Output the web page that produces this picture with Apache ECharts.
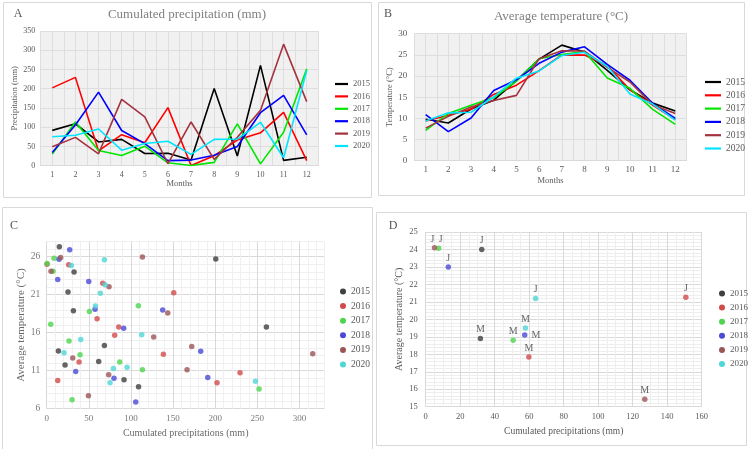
<!DOCTYPE html>
<html><head><meta charset="utf-8">
<script src="https://cdn.jsdelivr.net/npm/echarts@6/dist/echarts.min.js"></script>
<style>html,body{margin:0;padding:0;background:#fff}#c{width:751px;height:449px}</style>
</head><body><div id="c"></div>
<script>
const years = ['2015','2016','2017','2018','2019','2020'];
const months = [1,2,3,4,5,6,7,8,9,10,11,12];

// Cumulated precipitation (mm) per month
const precip2015 = [91.8, 109, 61.7, 68.5, 31.7, 32.5, 15, 200.7, 25.3, 260.8, 13.9, 21.8];
const precip2016 = [202.2, 229.5, 38.4, 80.7, 59.8, 150.8, 0.4, 26.1, 66.5, 85.5, 138.5, 13.1];
const precip2017 = [30.1, 113.6, 39.6, 26.5, 50.7, 7.5, 0.5, 8.7, 108.8, 4.75, 86.7, 252.1];
const precip2018 = [34.4, 105.7, 191.2, 91.4, 57.4, 13.1, 14.6, 27.3, 49.9, 137.7, 182.8, 79.9];
const precip2019 = [49.5, 73.6, 30.9, 172.2, 127, 5.1, 113.6, 16.6, 74, 143.7, 315.8, 166.6];
const precip2020 = [75.2, 79.2, 95.4, 40.4, 57.8, 63.7, 29.3, 68.5, 69.3, 112.8, 20.6, 247.8];

// Average temperature (°C) per month
const temp2015 = [9.8, 8.9, 12.2, 14.3, 18.9, 24.0, 27.3, 25.7, 21.35, 16.75, 13.6, 11.75];
const temp2016 = [9.4, 10.74, 12.14, 15.65, 17.84, 21.26, 25.0, 24.95, 22.5, 16.75, 13.15, 9.7];
const temp2017 = [7.18, 11.13, 13.1, 14.9, 18.8, 24.07, 25.1, 25.8, 19.55, 17.1, 12.14, 8.59];
const temp2018 = [10.9, 6.88, 10.1, 16.6, 19.1, 23.0, 25.65, 26.9, 22.75, 19.0, 13.55, 10.0];
const temp2019 = [7.7, 10.47, 12.67, 14.2, 15.43, 24.1, 25.95, 25.9, 22.05, 18.6, 13.24, 11.13];
const temp2020 = [9.4, 11.3, 11.44, 15.1, 19.5, 21.2, 24.85, 25.6, 22.3, 15.74, 13.37, 9.6];

const precipTicksA = [0, 50, 100, 150, 200, 250, 300, 350];
const tempTicksB = [0, 5, 10, 15, 20, 25, 30];

const precips = [precip2015, precip2016, precip2017, precip2018, precip2019, precip2020];
const temps = [temp2015, temp2016, temp2017, temp2018, temp2019, temp2020];

const lineColors = ['#000000', '#ff0000', '#00e600', '#0000ff', '#a3333d', '#00e5ff'];
const dotColors = ['#3f3f3f', '#d24b4b', '#4fd44f', '#4a4ad6', '#9b5555', '#4fd6d6'];

const FF = 'Liberation Serif';
const chart = echarts.init(document.getElementById('c'), null, {renderer: 'canvas'});

function txt(x, y, text, size, color, align) {
  return {type: 'text', x: x, y: y, silent: true, style: {text: text, font: size + 'px "' + FF + '"', fill: color,
    align: align || 'center', verticalAlign: 'middle', textAlign: align || 'center', textVerticalAlign: 'middle'}};
}
function box(x, y, w, h) {
  return {type: 'rect', shape: {x: x + 0.5, y: y + 0.5, width: w, height: h}, silent: true, z: -10,
    style: {fill: 'none', stroke: '#d9d9d9', lineWidth: 1}};
}
const isInt = v => Math.abs(v - Math.round(v)) < 1e-6;

const series = [];
years.forEach((y, i) => {
  series.push({name: y, type: 'line', xAxisIndex: 0, yAxisIndex: 0, symbol: 'none',
    lineStyle: {width: 1.6, color: lineColors[i]}, itemStyle: {color: lineColors[i]},
    data: months.map((m, k) => [m, precips[i][k]])});
});
years.forEach((y, i) => {
  series.push({name: y, type: 'line', xAxisIndex: 1, yAxisIndex: 1, symbol: 'none',
    lineStyle: {width: 1.6, color: lineColors[i]}, itemStyle: {color: lineColors[i]},
    data: months.map((m, k) => [m, temps[i][k]])});
});
years.forEach((y, i) => {
  series.push({name: y, type: 'scatter', xAxisIndex: 2, yAxisIndex: 2, symbolSize: 5.5,
    itemStyle: {color: dotColors[i]},
    data: months.map((m, k) => [precips[i][k], temps[i][k]])});
});
const jOffsets = [[0,0],[0,0],[2,0],[0,0],[-2,0],[0,0]];
years.forEach((y, i) => {
  series.push({name: y, type: 'scatter', xAxisIndex: 3, yAxisIndex: 3, symbolSize: 5.5,
    itemStyle: {color: dotColors[i]},
    label: {show: true, fontFamily: FF, fontSize: 10, color: '#404040', distance: 1},
    data: [
      {value: [precips[i][5], temps[i][5]], label: {formatter: 'J', position: 'top', offset: jOffsets[i]}},
      {value: [precips[i][4], temps[i][4]], label: {formatter: 'M', position: i === 3 ? 'right' : 'top', distance: i === 3 ? 4 : 1}}
    ]});
});

function legendData(colors, icon) {
  return years.map((y, i) => ({name: y, icon: icon, itemStyle: {color: colors[i]}}));
}

const option = {
  animation: false,
  backgroundColor: '#ffffff',
  textStyle: {fontFamily: FF},
  grid: [
    {left: 40.7, top: 31, width: 277.6, height: 134.7, show: true, backgroundColor: '#f1f1f1', borderWidth: 0},
    {left: 414.3, top: 33.7, width: 272.4, height: 127, show: true, backgroundColor: '#f1f1f1', borderWidth: 0},
    {left: 46.7, top: 241.5, width: 278, height: 167.2},
    {left: 425.7, top: 232, width: 276, height: 174.7}
  ],
  xAxis: [
    {type: 'value', gridIndex: 0, min: 0.5, max: 12.5, interval: 0.5,
      axisLabel: {formatter: v => isInt(v) ? String(Math.round(v)) : '', fontSize: 8, color: '#595959', margin: 5, fontFamily: FF},
      axisTick: {show: false}, axisLine: {show: true, lineStyle: {color: '#d9d9d9'}},
      splitLine: {show: true, lineStyle: {color: '#dedede', width: 1}},
      name: 'Months', nameLocation: 'middle', nameGap: 14, nameTextStyle: {fontSize: 8.5, color: '#595959', fontFamily: FF}},
    {type: 'value', gridIndex: 1, min: 0.5, max: 12.5, interval: 0.5,
      axisLabel: {formatter: v => isInt(v) ? String(Math.round(v)) : '', fontSize: 9, color: '#595959', margin: 4, fontFamily: FF},
      axisTick: {show: false}, axisLine: {show: true, lineStyle: {color: '#d9d9d9'}},
      splitLine: {show: true, lineStyle: {color: '#dedede', width: 1}},
      name: 'Months', nameLocation: 'middle', nameGap: 16, nameTextStyle: {fontSize: 8.5, color: '#595959', fontFamily: FF}},
    {type: 'value', gridIndex: 2, min: 0, max: 330, interval: 10,
      axisLabel: {formatter: v => (Math.round(v) % 50 === 0) ? String(Math.round(v)) : '', fontSize: 9, color: '#7a7a7a', margin: 5, fontFamily: FF},
      axisTick: {show: false}, axisLine: {show: false},
      splitLine: {show: true, lineStyle: {color: ['#d9d9d9', '#f0f0f0', '#f0f0f0', '#f0f0f0', '#f0f0f0'], width: 1}},
      name: 'Cumulated precipitations (mm)', nameLocation: 'middle', nameGap: 20, nameTextStyle: {fontSize: 10, color: '#6a6a6a', fontFamily: FF}},
    {type: 'value', gridIndex: 3, min: 0, max: 160, interval: 5,
      axisLabel: {formatter: v => (Math.round(v) % 20 === 0) ? String(Math.round(v)) : '', fontSize: 8.5, color: '#595959', margin: 6, fontFamily: FF},
      axisTick: {show: false}, axisLine: {show: false},
      splitLine: {show: true, lineStyle: {color: ['#d9d9d9', '#eeeeee', '#eeeeee', '#eeeeee'], width: 1}},
      name: 'Cumulated precipitations (mm)', nameLocation: 'middle', nameGap: 20, nameTextStyle: {fontSize: 9.5, color: '#595959', fontFamily: FF}}
  ],
  yAxis: [
    {type: 'value', gridIndex: 0, min: precipTicksA[0], max: precipTicksA[precipTicksA.length - 1], interval: 50,
      axisLabel: {fontSize: 8, color: '#595959', margin: 5.5, fontFamily: FF},
      axisTick: {show: false}, axisLine: {show: false},
      splitLine: {show: true, lineStyle: {color: '#dedede'}},
      name: 'Precipitation (mm)', nameLocation: 'middle', nameGap: 19, nameTextStyle: {fontSize: 8.5, color: '#595959', fontFamily: FF}},
    {type: 'value', gridIndex: 1, min: tempTicksB[0], max: tempTicksB[tempTicksB.length - 1], interval: 5,
      axisLabel: {fontSize: 9, color: '#595959', margin: 7, fontFamily: FF},
      axisTick: {show: false}, axisLine: {show: false},
      splitLine: {show: true, lineStyle: {color: '#dedede'}},
      name: 'Temperature (°C)', nameLocation: 'middle', nameGap: 18, nameTextStyle: {fontSize: 8.5, color: '#595959', fontFamily: FF}},
    {type: 'value', gridIndex: 2, min: 6, max: 28, interval: 1,
      axisLabel: {formatter: v => ((Math.round(v) - 6) % 5 === 0) ? String(Math.round(v)) : '', fontSize: 9.5, color: '#7a7a7a', margin: 6.5, fontFamily: FF},
      axisTick: {show: false}, axisLine: {show: false},
      splitLine: {show: true, lineStyle: {color: ['#d9d9d9', '#f0f0f0', '#f0f0f0', '#f0f0f0', '#f0f0f0'], width: 1}},
      name: 'Average temperature (°C)', nameLocation: 'middle', nameGap: 20, nameTextStyle: {fontSize: 11, color: '#6a6a6a', fontFamily: FF}},
    {type: 'value', gridIndex: 3, min: 15, max: 25, interval: 0.2,
      axisLabel: {formatter: v => isInt(v) ? String(Math.round(v)) : '', fontSize: 8.5, color: '#595959', margin: 8, fontFamily: FF},
      axisTick: {show: false}, axisLine: {show: false},
      splitLine: {show: true, lineStyle: {color: ['#d9d9d9', '#eeeeee', '#eeeeee', '#eeeeee', '#eeeeee'], width: 1}},
      name: 'Average temperature (°C)', nameLocation: 'middle', nameGap: 21, nameTextStyle: {fontSize: 10, color: '#595959', fontFamily: FF}}
  ],
  legend: [
    {data: legendData(lineColors, 'rect'), left: 330, top: 73, orient: 'vertical', itemWidth: 13, itemHeight: 2.2,
      itemGap: 0.4, selectedMode: false, textStyle: {fontFamily: FF, fontSize: 8.5, color: '#595959', lineHeight: 12}},
    {data: legendData(lineColors, 'rect'), left: 700, top: 70.5, orient: 'vertical', itemWidth: 16, itemHeight: 2.2,
      itemGap: 0.3, selectedMode: false, textStyle: {fontFamily: FF, fontSize: 9.5, color: '#595959', lineHeight: 13}},
    {data: legendData(dotColors, 'circle'), left: 335, top: 280.5, orient: 'vertical', itemWidth: 6, itemHeight: 6,
      itemGap: 2.6, selectedMode: false, textStyle: {fontFamily: FF, fontSize: 9.5, color: '#595959', lineHeight: 12}},
    {data: legendData(dotColors, 'circle'), left: 714, top: 282.5, orient: 'vertical', itemWidth: 6, itemHeight: 6,
      itemGap: 2.1, selectedMode: false, textStyle: {fontFamily: FF, fontSize: 9, color: '#595959', lineHeight: 12}}
  ],
  graphic: [
    box(3, 2, 368, 195), box(378, 2, 366, 193), box(2, 207, 370, 250), box(376, 212, 370, 233),
    txt(187, 15, 'Cumulated precipitation (mm)', 13, '#808080'),
    txt(561, 17, 'Average temperature (°C)', 13, '#808080'),
    txt(18, 14, 'A', 12, '#555555'),
    txt(388, 14, 'B', 12, '#555555'),
    txt(14, 226, 'C', 12, '#555555'),
    txt(393, 226, 'D', 12, '#555555')
  ],
  series: series
};
chart.setOption(option);
</script></body></html>
